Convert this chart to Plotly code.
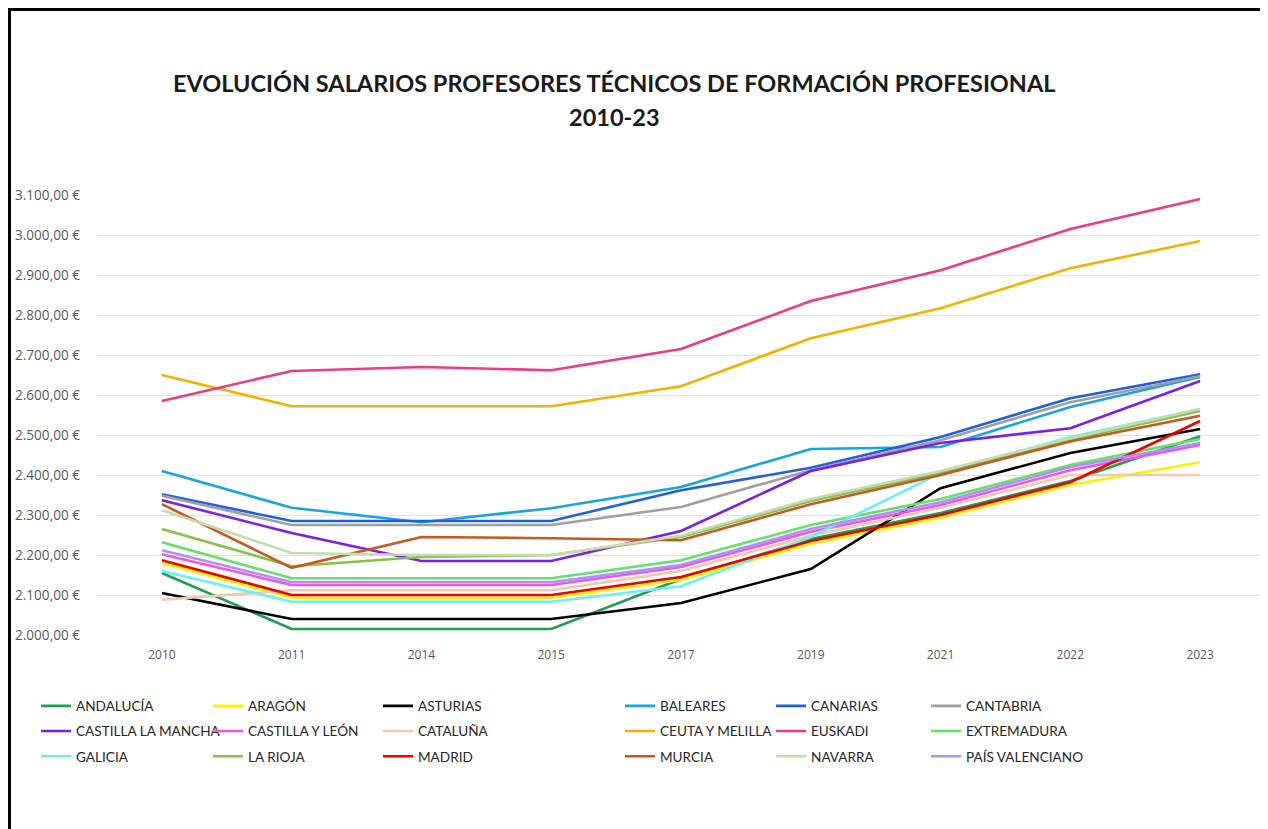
import plotly.graph_objects as go

years = ["2010", "2011", "2014", "2015", "2017", "2019", "2021", "2022", "2023"]

andalucia = [2155, 2015, 2015, 2015, 2140, 2240, 2305, 2385, 2497]
aragon = [2180, 2093, 2093, 2093, 2138, 2228, 2293, 2375, 2432]
asturias = [2105, 2040, 2040, 2040, 2080, 2165, 2367, 2455, 2515]
baleares = [2410, 2318, 2282, 2317, 2370, 2465, 2470, 2570, 2645]
canarias = [2352, 2285, 2285, 2285, 2362, 2418, 2495, 2592, 2652]
cantabria = [2348, 2275, 2275, 2275, 2320, 2412, 2487, 2582, 2647]
castilla_la_mancha = [2337, 2255, 2185, 2185, 2260, 2410, 2480, 2517, 2635]
castilla_y_leon = [2202, 2125, 2125, 2125, 2170, 2258, 2325, 2412, 2475]
cataluna = [2088, 2112, 2112, 2112, 2160, 2248, 2318, 2400, 2400]
ceuta_y_melilla = [2650, 2572, 2572, 2572, 2622, 2742, 2817, 2917, 2985]
euskadi = [2585, 2660, 2670, 2662, 2715, 2835, 2912, 3015, 3090]
extremadura = [2232, 2142, 2142, 2142, 2187, 2275, 2340, 2425, 2490]
galicia = [2160, 2083, 2083, 2083, 2122, 2245, 2405, 2495, 2565]
la_rioja = [2265, 2172, 2195, 2200, 2245, 2335, 2405, 2488, 2560]
madrid = [2187, 2100, 2100, 2100, 2145, 2235, 2300, 2382, 2535]
murcia = [2327, 2168, 2245, 2242, 2237, 2327, 2400, 2484, 2548]
navarra = [2312, 2205, 2200, 2200, 2248, 2340, 2410, 2492, 2565]
pais_valenciano = [2212, 2132, 2132, 2132, 2175, 2265, 2332, 2420, 2480]

series = [
    ("ANDALUCÍA", andalucia, "#1e9e50"),
    ("ARAGÓN", aragon, "#f5f500"),
    ("ASTURIAS", asturias, "#000000"),
    ("BALEARES", baleares, "#18a4df"),
    ("CANARIAS", canarias, "#2060e0"),
    ("CANTABRIA", cantabria, "#a0a0a0"),
    ("CASTILLA LA MANCHA", castilla_la_mancha, "#7a1fea"),
    ("CASTILLA Y LEÓN", castilla_y_leon, "#ee55ee"),
    ("CATALUÑA", cataluna, "#f4c6aa"),
    ("CEUTA Y MELILLA", ceuta_y_melilla, "#f0b400"),
    ("EUSKADI", euskadi, "#ec3b87"),
    ("EXTREMADURA", extremadura, "#66e066"),
    ("GALICIA", galicia, "#6cf0f0"),
    ("LA RIOJA", la_rioja, "#88c048"),
    ("MADRID", madrid, "#f00000"),
    ("MURCIA", murcia, "#c55a20"),
    ("NAVARRA", navarra, "#c4dcaf"),
    ("PAÍS VALENCIANO", pais_valenciano, "#b090f0"),
]

legend_names = ["legend", "legend2", "legend3", "legend4", "legend5", "legend6"]

fig = go.Figure()
for i, (name, vals, color) in enumerate(series):
    fig.add_trace(go.Scatter(
        x=years, y=vals, name=name, mode="lines",
        line=dict(color=color, width=2.6),
        legend=legend_names[i % 6],
        legendgroup=name,
        legendrank=i,
    ))

# page has an 8px body margin: screen = figure + 8
OFF = 8
W, H = 1260, 821
L, R, T, B = 89, 3, 187, 194
pw = W - L - R
ph = H - T - B


def px_x(sx):
    return (sx - OFF - L) / pw


def px_y(sy):
    return (H - B - (sy - OFF)) / ph


col_px = [41, 213, 383, 625, 776, 931]
legend_font = dict(family="Lato", size=13.6, color="#262626")
layout_legends = {}
for k, lname in enumerate(legend_names):
    layout_legends[lname] = dict(
        x=px_x(col_px[k] - 5), xanchor="left",
        y=px_y(690.5), yanchor="top",
        orientation="v", font=legend_font,
        bgcolor="rgba(0,0,0,0)", borderwidth=0,
        tracegroupgap=4.5,
        itemclick=False, itemdoubleclick=False,
    )

fig.update_layout(
    width=W, height=H,
    margin=dict(l=L, r=R, t=T, b=B),
    paper_bgcolor="white", plot_bgcolor="white",
    separators=",.",
    font=dict(family="Open Sans", color="#595959"),
    showlegend=True,
    **layout_legends,
)

fig.update_xaxes(
    type="category", range=[-0.5, 8.5],
    showgrid=False, showline=False, zeroline=False,
    tickfont=dict(family="Open Sans", size=12, color="#595959"),
    ticks="", ticklabelstandoff=11,
)
fig.update_yaxes(
    range=[2000, 3100],
    dtick=100, tick0=2000,
    tickformat=",.2f", ticksuffix=" €",
    showgrid=True, gridcolor="#e3e3e3", gridwidth=1.3,
    zeroline=False, showline=False,
    tickfont=dict(family="Open Sans", size=13.6, color="#595959"),
    ticks="", ticklabelstandoff=16,
)

fig.add_annotation(
    text="<b>EVOLUCIÓN SALARIOS PROFESORES TÉCNICOS DE FORMACIÓN PROFESIONAL</b>",
    xref="paper", yref="paper", x=px_x(614), y=px_y(83),
    xanchor="center", yanchor="middle", showarrow=False,
    font=dict(family="Lato", size=23.5, color="#1a1a1a"),
)
fig.add_annotation(
    text="<b>2010-23</b>",
    xref="paper", yref="paper", x=px_x(614), y=px_y(117),
    xanchor="center", yanchor="middle", showarrow=False,
    font=dict(family="Lato", size=23.5, color="#1a1a1a"),
)

# frame
fig.add_shape(type="line", xref="paper", yref="paper",
              x0=px_x(9.5), x1=px_x(9.5), y0=px_y(8), y1=px_y(840),
              line=dict(color="#000000", width=3))
fig.add_shape(type="line", xref="paper", yref="paper",
              x0=px_x(8), x1=px_x(1266), y0=px_y(9.5), y1=px_y(9.5),
              line=dict(color="#000000", width=3))
fig.add_shape(type="line", xref="paper", yref="paper",
              x0=px_x(1266), x1=px_x(1266), y0=px_y(8), y1=px_y(840),
              line=dict(color="#9a9a9a", width=1.5))

fig.write_html("out.html")
